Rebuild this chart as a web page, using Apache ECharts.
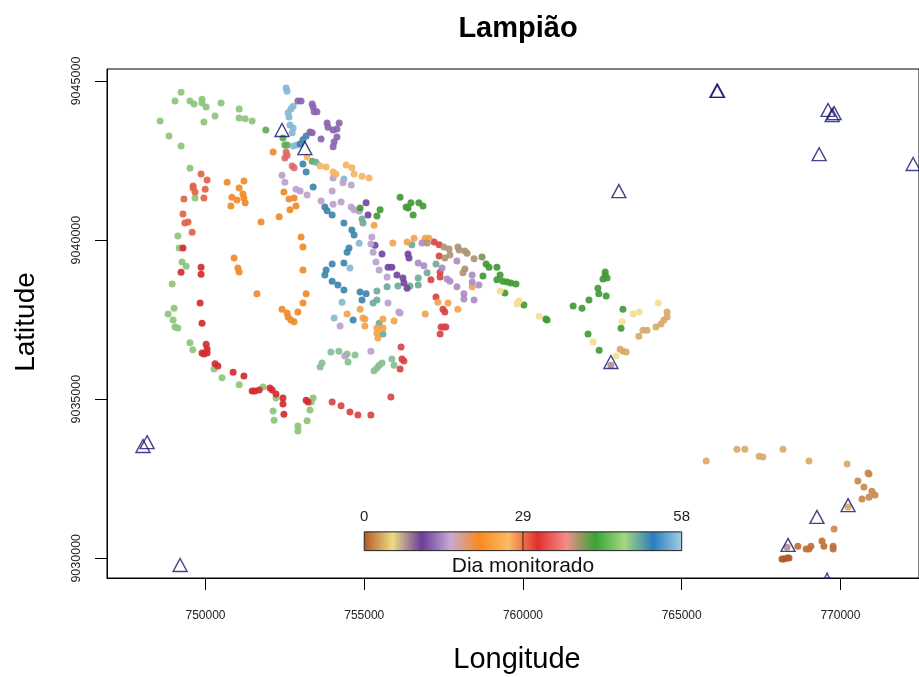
<!DOCTYPE html>
<html><head><meta charset="utf-8">
<script src="https://cdn.jsdelivr.net/npm/echarts@6/dist/echarts.min.js"></script>
<style>html,body{margin:0;padding:0;background:#fff}#c{width:919px;height:677px}</style>
</head><body><div id="c"></div>
<script>
const palette=['#B15928','#F5E89A','#6A3D9A','#C0A8D0','#F08A28','#F5B86A','#D42A2E','#E08F8F','#3C9A34','#9FD08A','#2F7AB0','#9CC6DE'];
const barPalette=['#B15928','#EDDB85','#6A3D9A','#C4AAD4','#FB8A1E','#FBBA66','#E2302A','#F58C8C','#38A436','#A4D682','#2B7EBC','#A6CEE3'];
const xTicks=[750000,755000,760000,765000,770000];
const yTicks=[9030000,9035000,9040000,9045000];
const legendTicks=[0,29,58];
const legendLon=[755000,760000,765000];
const legendLat=[9030240,9030830];
// [lon, lat] points by monitored day
const d46=[[749230,9044650],[749040,9044370],[749510,9044370],[749640,9044280],[749890,9044430],[749890,9044310],[750020,9044180],[750490,9044310],[751060,9044120],[751060,9043840],[751250,9043810],[751470,9043740],[750300,9043900],[749950,9043710],[748570,9043740],[748850,9043270],[749230,9042960],[749510,9042260],[749670,9041320],[749130,9040130],[749170,9039750],[749260,9039310],[749390,9039180],[748950,9038620],[749010,9037860],[748820,9037680],[748980,9037490],[749040,9037270],[749130,9037240],[749510,9036770],[749600,9036550],[750270,9035950],[750520,9035670],[751060,9035450],[751810,9035380],[752220,9035040],[752130,9034630],[752160,9034340],[752910,9034160],[752910,9034000],[753200,9034320],[753290,9034660],[753390,9035040],[753330,9034910]];
const d44=[[751900,9043460],[752440,9043210],[752500,9042990],[752570,9042990],[753360,9042480]];
const d29=[[749860,9042080],[750050,9041890],[749610,9041700],[749610,9041640],[749670,9041510],[749990,9041600],[749950,9041320],[749320,9041290],[749290,9040820],[749450,9040570],[749350,9040540],[749580,9040250]];
const d31=[[749290,9039750],[749860,9039150],[749860,9038930],[749230,9038990],[749830,9038020],[749890,9037390],[750020,9036730],[750050,9036580],[750050,9036450],[749890,9036450],[749950,9036420],[750300,9036110],[750390,9036040],[750870,9035850],[751210,9035730],[751470,9035260],[751560,9035260],[751690,9035290],[752030,9035350],[752100,9035290],[752220,9035160],[752440,9035040],[752440,9034850],[752470,9034530],[753170,9034970],[753230,9034910]];
const d32=[[753990,9034910],[754270,9034790],[754550,9034600],[754800,9034500],[755210,9034500],[755840,9035070],[756160,9036640],[756190,9036260],[756250,9036200],[756130,9035950],[757420,9037270],[757510,9037270],[757570,9037270],[757390,9037050],[757480,9037830],[757540,9037740],[757260,9038210],[757100,9038750],[757360,9039500],[757200,9039940],[757360,9039850],[757390,9038990],[757390,9038840]];
const d21=[[750680,9041820],[751210,9041860],[751060,9041640],[751180,9041450],[751210,9041320],[751250,9041170],[750830,9041350],[750990,9041260],[750800,9041070],[752130,9042770],[752470,9041510],[752630,9041290],[752790,9041320],[752850,9041070],[752660,9040950],[752320,9040730],[751750,9040570],[753010,9040100],[753070,9039780],[753070,9039060],[750900,9039440],[751020,9039120],[751060,9039000],[751620,9038310],[753170,9038310],[753070,9038020],[752910,9037740],[752410,9037830],[752570,9037710],[752600,9037580],[752690,9037490],[752790,9037430]];
const d57=[[752540,9044780],[752570,9044680],[752760,9044210],[752690,9044120],[752600,9044000],[752630,9043870],[752660,9043620],[752760,9043520],[752730,9043370],[752880,9042990],[752760,9042960],[754360,9041920],[754840,9039900],[754550,9039120],[754300,9038050],[754050,9037550]];
const d52=[[753170,9043270],[753070,9043150],[752980,9043020],[753760,9041040],[753830,9040920],[753990,9040790],[754360,9040540],[754610,9040320],[754680,9040160],[754520,9039750],[754460,9039620],[753990,9039250],[754360,9039280],[753800,9039060],[753760,9038900],[753990,9038710],[754170,9038590],[754360,9038430],[754870,9038370],[755060,9038310],[754930,9038120],[754650,9037490],[753070,9042390],[753170,9042140],[753390,9041670]];
const d49=[[753480,9042450],[755400,9038400],[755720,9038530],[756060,9038560],[755280,9038020],[755400,9038120],[754930,9040660],[754960,9040540],[755470,9037390],[755590,9037050],[756500,9039850],[757260,9039250],[756980,9038970],[756700,9038810],[756700,9038590],[756440,9038560]];
const d48=[[753950,9036480],[754200,9036510],[754460,9036420],[754710,9036390],[754490,9036170],[753670,9036140],[753610,9036010],[755870,9036260],[755940,9036070],[755560,9036140],[755470,9036070],[755400,9035980],[755310,9035890]];
const d11=[[755060,9041170],[755120,9040790],[755340,9039840],[755560,9039560],[755750,9039150],[755870,9039150],[756030,9038900],[756220,9038810],[756250,9038650],[756350,9038490],[756380,9039560],[756410,9039440]];
const d12=[[752910,9044370],[753010,9044370],[753360,9044280],[753390,9044180],[753420,9044030],[753510,9044030],[753830,9043680],[753860,9043550],[754020,9043460],[754140,9043490],[754210,9043680],[754140,9043240],[754050,9043080],[754020,9042930],[753640,9043180],[753290,9043400],[753360,9043370]];
const d15=[[752410,9042040],[752500,9041820],[754020,9041950],[754330,9041800],[752850,9041600],[752980,9041540],[753200,9041420],[753990,9041540],[753640,9041230],[754020,9041130],[754270,9041200],[754590,9041040],[754680,9040950],[754840,9040910],[755240,9040100],[755210,9039880],[755280,9039620],[755370,9039310],[755470,9039060],[755720,9038840],[755750,9038020],[756090,9037740],[754240,9037300],[755210,9036510],[754390,9036360],[756130,9037710],[754590,9041730]];
const d26=[[753200,9042610],[753610,9042330],[753800,9042300],[754020,9042140],[754110,9042080],[754430,9042360],[754610,9042270],[754680,9042080],[754930,9042010],[755150,9041950]];
const d35=[[752540,9042770],[752570,9042670],[752500,9042580],[752730,9042330],[752790,9042270]];
const d24=[[754460,9037680],[754870,9037830],[754960,9037550],[755020,9037520],[755020,9037300],[755590,9037520],[755940,9037460],[755400,9037240],[755400,9037080],[755430,9036920],[755590,9037240],[755310,9040470],[755900,9039910],[756570,9040060],[758400,9038530],[757320,9038050],[757640,9038020],[756920,9037680],[757950,9037830],[756350,9039940],[756920,9040060],[757040,9040060]];
const d14=[[756700,9039280],[756880,9039190],[757450,9039120],[757920,9039340],[758400,9038900],[758400,9038680],[758610,9038590],[757920,9038530],[757610,9038780],[757700,9038710],[758140,9038310],[758140,9038150],[758460,9038120],[756820,9039910]];
const d38=[[756980,9039910],[757510,9039780],[757670,9039720],[757950,9039780],[757990,9039690],[758170,9039660],[758240,9039590],[758460,9039410],[757540,9039440],[757700,9039530],[758170,9039090],[758110,9038970]];
const d40=[[758710,9039470]];
const d42=[[756130,9041350],[756470,9041170],[756720,9041170],[756850,9041070],[756320,9041040],[756380,9041010],[756540,9040790],[754870,9041010],[755500,9040950],[755400,9040760],[758840,9039250],[758930,9039150],[759180,9039150],[758740,9038870],[759280,9038900],[759180,9038750],[759370,9038710],[759500,9038680],[759620,9038650],[759780,9038620],[759430,9038340],[760030,9037960],[760720,9037520],[760760,9037490],[762590,9039000],[762590,9038900],[762650,9038810],[762520,9038780],[762360,9038490],[762390,9038310],[762620,9038240],[762080,9038120],[761580,9037930],[761860,9037860],[763150,9037830],[763090,9037230],[762050,9037050],[762400,9036540]];
const d5=[[759280,9038400],[759880,9038090],[759840,9038050],[759810,9037990],[760510,9037610],[764260,9038020],[763470,9037680],[763660,9037740],[763120,9037430],[762210,9036800],[762930,9036360]];
const d3=[[764540,9037740],[764540,9037580],[764440,9037490],[764350,9037360],[764190,9037270],[763780,9037170],[763910,9037170],[763650,9036980],[763060,9036570],[763150,9036510],[763250,9036480],[765770,9033060],[766740,9033430],[766990,9033430],[767440,9033210],[767560,9033180],[768190,9033430],[769010,9033060],[770210,9032960],[770240,9031610]];
const d2=[[770870,9032680],[770900,9032650],[770550,9032430],[770740,9032240],[770990,9032110],[771090,9031990],[770900,9031920],[770680,9031860],[769800,9030920]];
const d1=[[769420,9030540],[769480,9030380],[769770,9030380],[769770,9030290],[769070,9030380],[769010,9030290],[768920,9030290],[768660,9030380]];
const d0=[[768160,9029980],[768220,9029980],[768320,9030010],[768380,9030010]];
const d8=[[768320,9030350],[762770,9036070]];
const traps=[[752410,9043460],[753130,9042890],[763020,9041540],[766110,9044690],[766130,9044690],[769610,9044090],[769800,9043990],[769740,9043930],[769330,9042700],[772290,9042390],[748160,9033650],[748030,9033530],[749200,9029790],[762770,9036170],[769260,9031300],[770240,9031670],[768350,9030420]];
// this trap sits on the lower edge of the map: only its tip shows
const edgeTrap=[769580,9029390];

const groups=[[46.5,d46],[44,d44],[29.5,d29],[31.6,d31],[33,d32],[21,d21],[57,d57],[52,d52],[49.7,d49],[48.5,d48],[11,d11],[12.5,d12],[15.5,d15],[26,d26],[35,d35],[24,d24],[14.5,d14],[38.5,d38],[40,d40],[42,d42],[5,d5],[3,d3],[1.8,d2],[0.9,d1],[0,d0],[8,d8]];
const points=[];
groups.forEach(([day,pts])=>pts.forEach(p=>points.push([p[0],p[1],day])));
const font='"Liberation Sans",Arial,sans-serif';
const chart=echarts.init(document.getElementById('c'),null,{renderer:'canvas'});
chart.setOption({
 animation:false,
 backgroundColor:'#fff',
 title:{text:'Lampião',left:513,top:9,textAlign:'center',textStyle:{fontFamily:font,fontSize:29,fontWeight:'bold',color:'#000'}},
 grid:{left:107,top:69,right:0,bottom:99,show:true,borderColor:'#000',borderWidth:1,backgroundColor:'transparent',outerBoundsMode:'none'},
 xAxis:{type:'value',min:746897,max:772475,name:'Longitude',nameLocation:'middle',nameGap:67,
  nameTextStyle:{fontFamily:font,fontSize:29,color:'#000',padding:[0,0,0,8]},
  splitLine:{show:false},axisLine:{show:true,lineStyle:{color:'#000'}},
  axisTick:{show:true,length:12,inside:false,customValues:xTicks,lineStyle:{color:'#000'}},
  axisLabel:{customValues:xTicks,margin:32,fontFamily:font,fontSize:12,color:'#222',formatter:v=>String(v)}},
 yAxis:{type:'value',min:9029380,max:9045377,name:'Latitude',nameLocation:'middle',nameGap:67,nameRotate:90,
  nameTextStyle:{fontFamily:font,fontSize:28,color:'#000',padding:[0,0,0,3]},
  splitLine:{show:false},axisLine:{show:true,lineStyle:{color:'#000'}},
  axisTick:{show:true,length:12,inside:false,customValues:yTicks,lineStyle:{color:'#000'}},
  axisLabel:{customValues:yTicks,rotate:90,margin:24,fontFamily:font,fontSize:12.5,color:'#222',formatter:v=>String(v),align:'center',verticalAlign:'bottom'}},
 visualMap:{show:false,type:'continuous',seriesIndex:0,dimension:2,min:0,max:58,inRange:{color:palette}},
 series:[
  {type:'scatter',data:points,symbol:'circle',symbolSize:7,itemStyle:{opacity:.92},silent:true,z:2},
  {type:'scatter',data:traps.concat([{value:edgeTrap,symbolSize:[5,5],symbolOffset:[0,-2]}]),symbol:'triangle',symbolSize:[14,13],clip:true,silent:true,z:3,
   itemStyle:{color:'rgba(0,0,0,0)',borderColor:'#17156e',borderWidth:1.4}},
  {type:'custom',silent:true,clip:false,z:4,coordinateSystem:'cartesian2d',data:[[legendLon[0],legendLat[0]]],
   renderItem(params,api){
    const tl=api.coord([legendLon[0],legendLat[1]]),br=api.coord([legendLon[2],legendLat[0]]),mid=api.coord([legendLon[1],legendLat[0]]);
    const stops=barPalette.map((c,i)=>({offset:i/(barPalette.length-1),color:c}));
    const ch=[{type:'rect',shape:{x:tl[0],y:tl[1],width:br[0]-tl[0],height:br[1]-tl[1]},
      style:{fill:new echarts.graphic.LinearGradient(0,0,1,0,stops),stroke:'#222',lineWidth:1}},
     {type:'line',shape:{x1:mid[0],y1:tl[1],x2:mid[0],y2:br[1]},style:{stroke:'#222',lineWidth:1}}];
    legendTicks.forEach((t,i)=>{const p=api.coord([legendLon[i],legendLat[1]]);
     ch.push({type:'text',style:{text:String(t),x:p[0],y:p[1]-15,align:'center',verticalAlign:'middle',fontFamily:font,fontSize:15,fill:'#222'}});});
    ch.push({type:'text',style:{text:'Dia monitorado',x:mid[0],y:br[1]+16,align:'center',verticalAlign:'middle',fontFamily:font,fontSize:21,fill:'#111'}});
    return {type:'group',children:ch};
   }}
 ]
});
</script></body></html>
